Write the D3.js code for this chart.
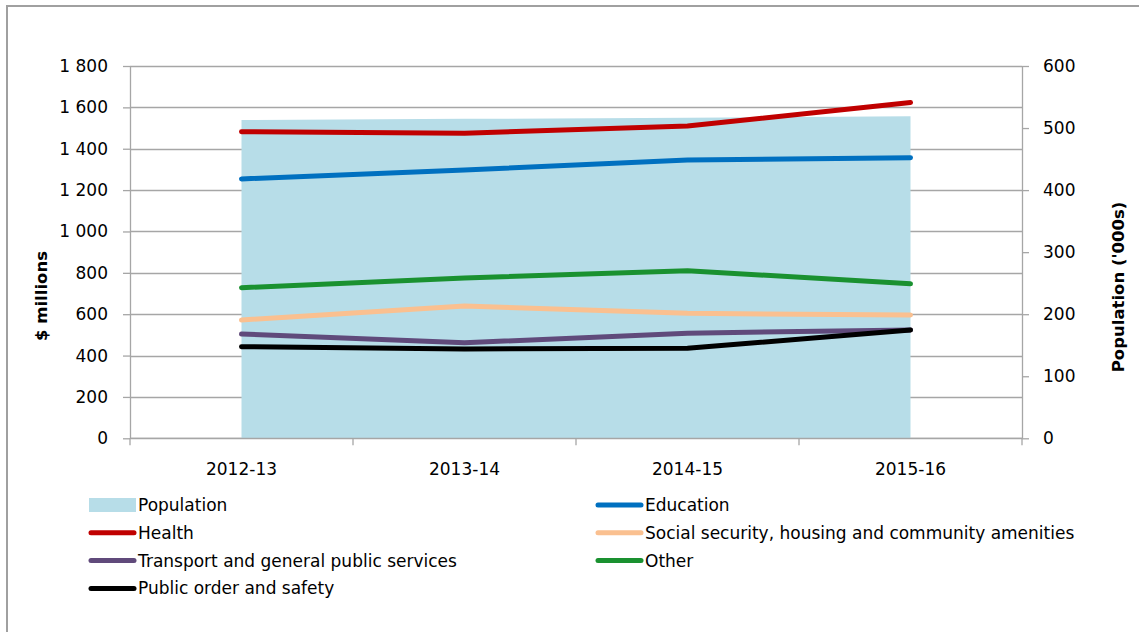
<!DOCTYPE html>
<html>
<head>
<meta charset="utf-8">
<script src="https://cdn.jsdelivr.net/npm/d3@7"></script>
<style>
  html, body { margin: 0; padding: 0; background: #fff; }
  svg { display: block; font-family: "DejaVu Sans", sans-serif; }
</style>
</head>
<body>
<svg id="chart" width="1139" height="632"></svg>
<script>
// Financial years
const years = ["2012-13", "2013-14", "2014-15", "2015-16"];

// Population ('000s), right axis
const population = [513, 514.8, 516.5, 519];

// Expenditure by purpose ($ millions), left axis
const education = [1254, 1297, 1345, 1357];
const health = [1482, 1475, 1510, 1623];
const socialSecurity = [572, 640, 604, 596];
const transport = [504, 462, 508, 524];
const other = [728, 775, 810, 747];
const publicOrder = [443, 432, 435, 524];

// Axis ticks
const leftTicks = [0, 200, 400, 600, 800, 1000, 1200, 1400, 1600, 1800];
const rightTicks = [0, 100, 200, 300, 400, 500, 600];

const series = [
  { name: "Education", values: education, color: "#0070c0" },
  { name: "Health", values: health, color: "#c00000" },
  { name: "Social security, housing and community amenities", values: socialSecurity, color: "#fac090" },
  { name: "Transport and general public services", values: transport, color: "#604a7b" },
  { name: "Other", values: other, color: "#1a9130" },
  { name: "Public order and safety", values: publicOrder, color: "#000000" }
];
const popColor = "#b7dde8";
const gridColor = "#a6a6a6";
const textColor = "#000";
const fontSize = 17;

const svg = d3.select("#chart");

// Outer frame
svg.append("rect")
  .attr("x", 7).attr("y", 6)
  .attr("width", 1200).attr("height", 700)
  .attr("fill", "none").attr("stroke", "#a0a0a0").attr("stroke-width", 2);

const plot = { left: 130, right: 1022, top: 66, bottom: 438.3 };

const x = d3.scaleBand().domain(years).range([plot.left, plot.right]).padding(0);
const cx = d => x(d) + x.bandwidth() / 2;
const y = d3.scaleLinear().domain([0, 1800]).range([plot.bottom, plot.top]);
const yR = d3.scaleLinear().domain([0, 600]).range([plot.bottom, plot.top]);

const fmt = d3.formatLocale({ decimal: ".", thousands: " ", grouping: [3], currency: ["$", ""] }).format(",");

// Gridlines
svg.append("g").selectAll("line").data(leftTicks).join("line")
  .attr("x1", plot.left).attr("x2", plot.right)
  .attr("y1", d => Math.round(y(d)) + 0.5).attr("y2", d => Math.round(y(d)) + 0.5)
  .attr("stroke", gridColor).attr("stroke-width", 1.3);

// Population area
const area = d3.area()
  .x((d, i) => cx(years[i]))
  .y0(y(0))
  .y1(d => yR(d));
svg.append("path").datum(population)
  .attr("d", area).attr("fill", popColor);

// Expenditure lines
const line = d3.line().x((d, i) => cx(years[i])).y(d => y(d));
svg.append("g").selectAll("path").data(series).join("path")
  .attr("d", s => line(s.values))
  .attr("fill", "none")
  .attr("stroke", s => s.color)
  .attr("stroke-width", 5)
  .attr("stroke-linecap", "round")
  .attr("stroke-linejoin", "round");

// Left axis
const leftAxis = d3.axisLeft(y).tickValues(leftTicks).tickFormat(fmt).tickSize(7).tickSizeOuter(0).tickPadding(15);
const gL = svg.append("g").attr("transform", `translate(${plot.left},0)`).call(leftAxis);
// Right axis
const rightAxis = d3.axisRight(yR).tickValues(rightTicks).tickSize(7).tickSizeOuter(0).tickPadding(14);
const gR = svg.append("g").attr("transform", `translate(${plot.right},0)`).call(rightAxis);
// Bottom axis: ticks at band edges, labels at band centres
const gB = svg.append("g");
gB.append("line")
  .attr("x1", plot.left).attr("x2", plot.right)
  .attr("y1", plot.bottom).attr("y2", plot.bottom)
  .attr("stroke", gridColor).attr("stroke-width", 1.3);
const edges = years.map(d => x(d)).concat([plot.right]);
gB.selectAll("line.tick").data(edges).join("line").attr("class", "tick")
  .attr("x1", d => d).attr("x2", d => d)
  .attr("y1", plot.bottom).attr("y2", plot.bottom + 7)
  .attr("stroke", gridColor).attr("stroke-width", 1.3);
gB.selectAll("text").data(years).join("text")
  .attr("x", d => cx(d)).attr("y", 475)
  .attr("text-anchor", "middle")
  .attr("font-size", fontSize).attr("fill", textColor)
  .text(d => d);

[gL, gR].forEach(g => {
  g.select(".domain").attr("stroke", gridColor).attr("stroke-width", 1.3);
  g.selectAll(".tick line").attr("stroke", gridColor).attr("stroke-width", 1.3);
  g.selectAll(".tick text").attr("font-size", fontSize).attr("fill", textColor)
    .attr("font-family", "DejaVu Sans, sans-serif");
});

// Axis titles
svg.append("text")
  .attr("transform", "translate(47,296) rotate(-90)")
  .attr("text-anchor", "middle").attr("font-size", 16.5).attr("font-weight", "bold")
  .attr("fill", textColor)
  .text("$ millions");
svg.append("text")
  .attr("transform", "translate(1124,287) rotate(-90)")
  .attr("text-anchor", "middle").attr("font-size", 16.5).attr("font-weight", "bold")
  .attr("fill", textColor)
  .text("Population ('000s)");

// Legend (two columns, row-major)
const legendItems = [{ name: "Population", color: popColor, area: true }].concat(series);
const colX = [89, 596];
const rowY0 = 505, rowH = 27.8;
const lg = svg.append("g");
legendItems.forEach((item, i) => {
  const col = i % 2, row = Math.floor(i / 2);
  const lx = colX[col], ly = rowY0 + row * rowH;
  if (item.area) {
    lg.append("rect").attr("x", lx).attr("y", ly - 7).attr("width", 47).attr("height", 14).attr("fill", item.color);
  } else {
    lg.append("line").attr("x1", lx + 2).attr("x2", lx + 45).attr("y1", ly).attr("y2", ly)
      .attr("stroke", item.color).attr("stroke-width", 5).attr("stroke-linecap", "round");
  }
  lg.append("text").attr("x", lx + 49).attr("y", ly + 6)
    .attr("font-size", fontSize).attr("fill", textColor).text(item.name);
});
</script>
</body>
</html>
